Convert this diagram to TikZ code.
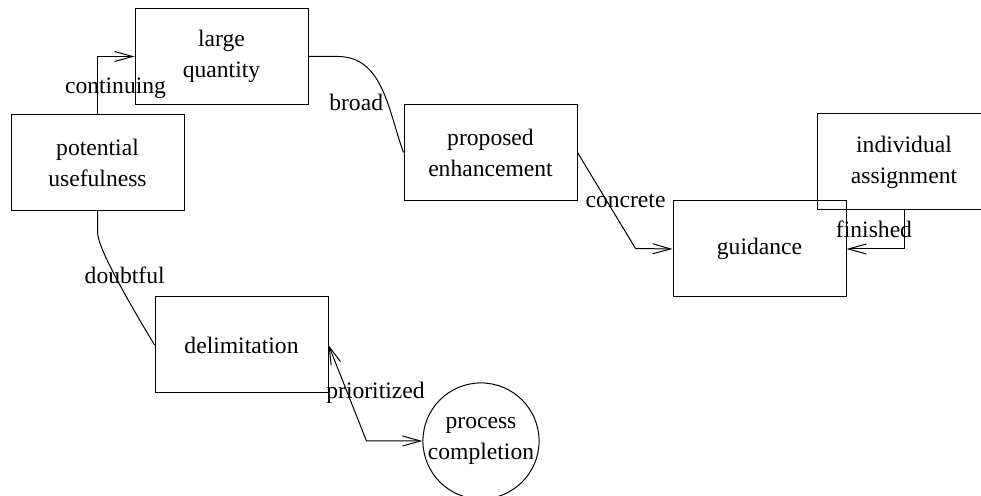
\documentclass[tikz,border=0pt]{standalone}
\usepackage{fontspec}
\setmainfont{Liberation Serif}
\usetikzlibrary{arrows.meta, positioning}

\begin{document}
\begin{tikzpicture}[x=0.5pt, y=-0.5pt, line width=0.5pt,
  every node/.style={font=\fontsize{11.8}{15.5}\selectfont},
  barb/.tip={Straight Barb[length=9pt, width=5pt]},
  stage/.style={draw, minimum width=86.5pt, minimum height=48pt, align=center, inner sep=0pt},
  finale/.style={draw, circle, minimum size=58pt, align=center, inner sep=0pt},
  lbl/.style={inner sep=0pt}]
  \useasboundingbox (0,0) rectangle (981,496);
  % stages
  \node[stage] (lq) at (221.5,56.5) {large\\quantity};
  \node[stage] (pu) at (97.5,162.5) {potential\\usefulness};
  \node[stage] (pe) at (490.5,152.5) {proposed\\enhancement};
  \node[stage] (ia) at (904,162) {individual\\assignment};
  \node[stage] (gd) at (759.5,249) {guidance};
  \node[stage] (dl) at (241.5,345) {delimitation};
  \node[finale] (pc) at (481,441) {process\\completion};
  % transitions
  \draw[-barb] (pu.north) |- node[lbl, pos=0.25, xshift=9pt, yshift=-1.5pt] {continuing} (lq.west);
  \draw (lq.east) -- ++(29,0) to[out=0, in=110] node[lbl, pos=0.62, anchor=east, xshift=-2pt] {broad} (pe.west);
  \draw[-barb] (pe.east) -- node[lbl, xshift=9.5pt] {concrete} ++(58,96) -- (gd.west);
  \draw[-barb] (ia.south) |- node[lbl, pos=0.25, xshift=-15pt] {finished} (gd.east);
  \draw (pu.south) -- ++(0,21) to[out=-90, in=120, looseness=0.4] node[lbl, pos=0.4, xshift=5pt] {doubtful} (dl.west);
  \draw[barb-barb] (dl.east) -- node[lbl, xshift=14pt] {prioritized} ++(38,96) -- (pc.west);
\end{tikzpicture}
\end{document}
